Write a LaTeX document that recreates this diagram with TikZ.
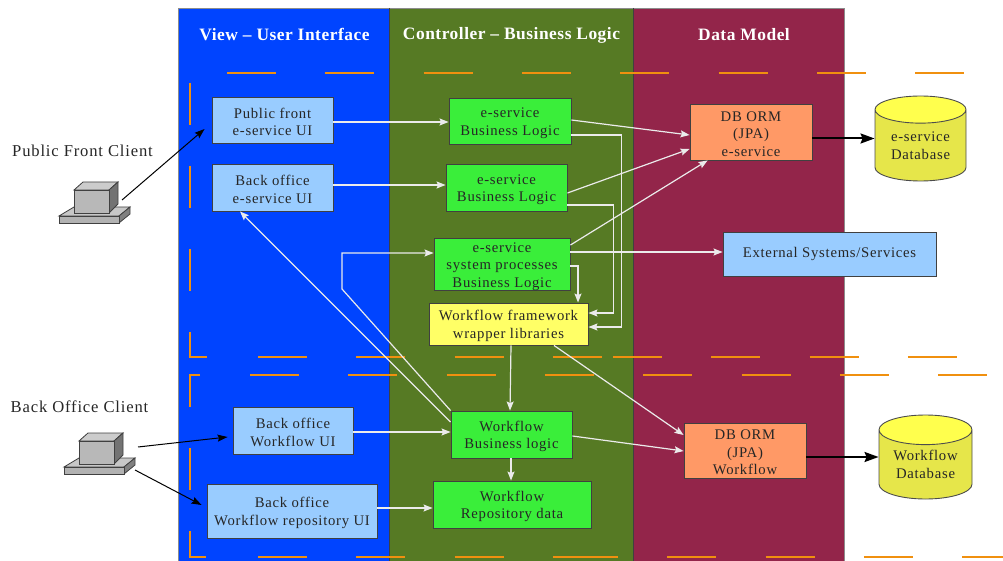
\documentclass[tikz,border=0pt]{standalone}
\usepackage{fontspec}
\setmainfont{Liberation Serif}[LetterSpace=5]
\newfontfamily\headfont{Liberation Serif}[LetterSpace=3]
\usetikzlibrary{arrows.meta,shapes.geometric}
\definecolor{viewblue}{HTML}{0044FF}
\definecolor{ctrlgreen}{HTML}{567A24}
\definecolor{datamaroon}{HTML}{93254A}
\definecolor{uiblue}{HTML}{99CCFF}
\definecolor{logicgreen}{HTML}{3AEE3A}
\definecolor{wrapyellow}{HTML}{FFFF66}
\definecolor{ormorange}{HTML}{FF9966}
\definecolor{dashorange}{HTML}{F0900F}
\definecolor{cylbody}{HTML}{E6E64A}
\definecolor{cylend}{HTML}{FFFF4D}
\tikzset{
	box/.style={draw=black!75, line width=0.9pt, align=center, inner sep=0pt, text=black!85,
		font=\fontsize{14.7}{17.5}\selectfont},
	twolines/.style={text height=31.5pt},
	threelines/.style={text height=49pt},
	uibox/.style={box, fill=uiblue},
	logicbox/.style={box, fill=logicgreen},
	wrapbox/.style={box, fill=wrapyellow},
	ormbox/.style={box, fill=ormorange},
	dbcyl/.style={draw=black!70, line width=0.9pt, shape=cylinder, shape border rotate=90, aspect=0.46,
		anchor=shape center, cylinder uses custom fill, cylinder body fill=cylbody, cylinder end fill=cylend,
		align=center, inner sep=0pt, text=black!85, font=\fontsize{14.7}{17.5}\selectfont},
	headtext/.style={text=white, font=\fontsize{17.4}{20}\headfont\bfseries},
	clienttext/.style={text=black!85, font=\fontsize{16.6}{18}\selectfont},
	dashline/.style={draw=dashorange, line width=1.6pt},
	whitearrow/.style={draw=white!92!black, line width=1.2pt, -{Stealth[length=9pt,width=7pt,inset=1.5pt]}},
	blackarrow/.style={draw=black, line width=1pt, -{Stealth[length=10pt,width=7pt,inset=1.5pt]}},
	thickarrow/.style={draw=black, line width=2pt, -{Stealth[length=14pt,width=10pt,inset=2pt]}},
	computer/.pic={
		\draw[black!75, line width=0.8pt, fill=black!22] (0,-7) -- (15,-16) -- (71,-16) -- (60,-7) -- cycle;
		\draw[black!75, line width=0.8pt, fill=black!50] (60,-7) -- (71,-16) -- (71,-9) -- (60,0) -- cycle;
		\draw[black!75, line width=0.8pt, fill=black!30] (0,0) rectangle (60,-7);
		\draw[black!75, line width=0.8pt, fill=black!20] (15,-33) -- (24,-41) -- (59,-41) -- (50,-33) -- cycle;
		\draw[black!75, line width=0.8pt, fill=black!55] (50,-33) -- (59,-41) -- (59,-19) -- (50,-10) -- cycle;
		\draw[black!75, line width=0.8pt, fill=black!28] (15,-10) rectangle (50,-33);
	}
}

\begin{document}
\begin{tikzpicture}[x=1pt,y=-1pt]
\useasboundingbox (0,0) rectangle (1003,561);

% the three layers
\fill[viewblue] (178,8) rectangle (389,561);
\fill[ctrlgreen] (389,8) rectangle (633,561);
\fill[datamaroon] (633,8) rectangle (844,561);
\draw[black!45, line width=0.9pt] (178,561) -- (178,8) -- (844,8) -- (844,561);
\draw[black!75, line width=0.9pt] (389,8) -- (389,561);
\draw[black!75, line width=0.9pt] (633,8) -- (633,561);

\node[headtext] (viewhead) at (284.5,35) {View – User Interface};
\node[headtext] (ctrlhead) at (511.5,35) {Controller – Business Logic};
\node[headtext] (datahead) at (744,35) {Data Model};

% dashed frames
\draw[dashline, dash pattern=on 49pt off 49.3pt] (227,73) -- (964,73);
\draw[dashline, dash pattern=on 42pt off 41pt] (190,83) -- (190,357) -- (208,357);
\draw[dashline, dash pattern=on 49pt off 49.3pt] (258,357) -- (602,357);
\draw[dashline, dash pattern=on 49pt off 49.3pt] (613,357) -- (957,357);
\draw[dashline, dash pattern=on 49pt off 49.3pt] (250,375) -- (987,375);
\draw[dashline, dash pattern=on 42pt off 41pt] (200,375) -- (190,375) -- (190,557) -- (208,557);
\draw[dashline, dash pattern=on 49pt off 49.3pt] (258,557) -- (602,557);
\draw[dashline, dash pattern=on 49pt off 49.3pt] (569,557) -- (1003,557);

% clients
\node[clienttext] (pubtext) at (82.5,150.5) {Public Front Client};
\node[clienttext] (backtext) at (79.5,407) {Back Office Client};
\pic at (59,223) {computer};
\pic at (64,474) {computer};
\coordinate (pubpc) at (122,200);
\coordinate (backpcone) at (138,447);
\coordinate (backpctwo) at (135,470);

% boxes
\node[uibox, twolines, minimum width=121pt, minimum height=46pt] (pubui) at (272.5,120) {Public front\\e-service UI};
\node[uibox, twolines, minimum width=121pt, minimum height=47pt] (backui) at (272.5,187.5) {Back office\\e-service UI};
\node[uibox, twolines, minimum width=120pt, minimum height=47pt] (wfui) at (293,430.5) {Back office\\Workflow UI};
\node[uibox, twolines, minimum width=170pt, minimum height=54pt] (repoui) at (292,511) {Back office\\Workflow repository UI};
\node[logicbox, twolines, minimum width=122pt, minimum height=46pt] (busone) at (510,121) {e-service\\Business Logic};
\node[logicbox, twolines, minimum width=121pt, minimum height=47pt] (bustwo) at (506.5,187.5) {e-service\\Business Logic};
\node[logicbox, threelines, minimum width=136pt, minimum height=51pt] (sysproc) at (502,264.5) {e-service\\system processes\\Business Logic};
\node[wrapbox, twolines, minimum width=159pt, minimum height=42pt] (wrapper) at (508.5,324) {Workflow framework\\wrapper libraries};
\node[logicbox, twolines, minimum width=121pt, minimum height=47pt] (wfbus) at (511.5,434.5) {Workflow\\Business logic};
\node[logicbox, twolines, minimum width=158pt, minimum height=47pt] (repodata) at (512,504.5) {Workflow\\Repository data};
\node[ormbox, threelines, minimum width=122pt, minimum height=56pt] (dbone) at (751,132) {DB ORM\\(JPA)\\e-service};
\node[ormbox, threelines, minimum width=122pt, minimum height=55pt] (dbtwo) at (745,450.5) {DB ORM\\(JPA)\\Workflow};
\node[uibox, minimum width=213pt, minimum height=44pt] (external) at (829.5,254) {External Systems/Services};
\node[dbcyl, minimum width=91pt, minimum height=85pt] (cylone) at (920.5,138.5) {e-service\\Database};
\node[dbcyl, minimum width=93pt, minimum height=84pt] (cyltwo) at (925.5,457) {Workflow\\Database};

% connectors
\draw[blackarrow] (pubpc) -- ([xshift=-7pt,yshift=-9pt]pubui.west);
\draw[blackarrow] (backpcone) -- ([xshift=-5pt,yshift=-6.5pt]wfui.west);
\draw[blackarrow] (backpctwo) -- ([xshift=-5pt,yshift=6pt]repoui.west);
\draw[whitearrow] ([yshift=-2pt]pubui.east) -- ([yshift=-1pt]busone.west);
\draw[whitearrow] ([yshift=2.5pt]backui.east) -- ([yshift=2.5pt]bustwo.west);
\draw[whitearrow] ([yshift=1pt]busone.east) -- ([yshift=-3pt]dbone.west);
\draw[whitearrow] ([yshift=-5.5pt]bustwo.east) -- ([yshift=-17pt]dbone.west);
\draw[whitearrow] ([yshift=19.5pt]sysproc.east) -- ([xshift=18pt]dbone.south west);
\draw[whitearrow] ([yshift=12.5pt]sysproc.east) -- ([yshift=2pt]external.west);
\draw[whitearrow] ([yshift=-1.5pt]sysproc.east) -| ([xshift=69.5pt]wrapper.north);
\draw[whitearrow] ([yshift=-14pt]busone.east) -| ([xshift=33pt,yshift=-3pt]wrapper.east) -- ([yshift=-3pt]wrapper.east);
\draw[whitearrow] ([yshift=-17.5pt]bustwo.east) -| ([xshift=25pt,yshift=11pt]wrapper.east) -- ([yshift=11pt]wrapper.east);
\draw[whitearrow] ([xshift=2.5pt]wrapper.south) -- ([xshift=-1.5pt]wfbus.north);
\draw[whitearrow] ([xshift=45.5pt]wrapper.south) -- ([yshift=15.5pt]dbtwo.west);
\draw[whitearrow] ([yshift=-1.5pt]wfbus.east) -- ([yshift=-0.5pt]dbtwo.west);
\draw[whitearrow] ([yshift=12.5pt]wfbus.west) -- ([xshift=-32.5pt]backui.south);
\draw[whitearrow] (wfbus.north west) -- (342,289) -- (342,253) -- ([yshift=11.5pt]sysproc.west);
\draw[whitearrow] ([yshift=-1.5pt]wfui.east) -- ([yshift=2.5pt]wfbus.west);
\draw[whitearrow] ([yshift=3pt]repoui.east) -- ([yshift=-3.5pt]repodata.west);
\draw[whitearrow] ([xshift=-0.5pt]wfbus.south) -- ([xshift=-1pt]repodata.north);
\draw[thickarrow] ([yshift=-6.5pt]dbone.east) -- (cylone.west |- cylone.shape center);
\draw[thickarrow] ([yshift=-6.5pt]dbtwo.east) -- (cyltwo.west |- cyltwo.shape center);
\end{tikzpicture}
\end{document}
